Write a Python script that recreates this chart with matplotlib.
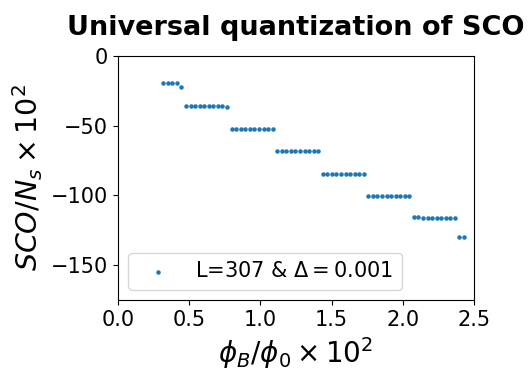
import matplotlib
matplotlib.use("Agg")
import matplotlib.pyplot as plt

# phi_B/phi_0 x 10^2 for each plateau of the staircase
x_step1 = [0.318, 0.350, 0.382, 0.414, 0.446]
x_step2 = [0.478, 0.510, 0.542, 0.574, 0.606, 0.638, 0.670, 0.702, 0.734, 0.766]
x_step3 = [0.798, 0.830, 0.862, 0.894, 0.926, 0.958, 0.990, 1.022, 1.054, 1.086]
x_step4 = [1.118, 1.150, 1.182, 1.214, 1.246, 1.278, 1.310, 1.342, 1.374, 1.406]
x_step5 = [1.438, 1.470, 1.502, 1.534, 1.566, 1.598, 1.630, 1.662, 1.694, 1.726]
x_step6 = [1.758, 1.790, 1.822, 1.854, 1.886, 1.918, 1.950, 1.982, 2.014, 2.046]
x_step7 = [2.078, 2.110, 2.142, 2.174, 2.206, 2.238, 2.270, 2.302, 2.334, 2.366]
x_step8 = [2.398, 2.430]

# SCO/N_s x 10^2
y_step1 = [-19.7, -19.7, -19.7, -19.7, -22.0]
y_step2 = [-35.7, -35.7, -35.7, -35.7, -35.7, -35.7, -35.7, -35.7, -35.7, -36.5]
y_step3 = [-52.1, -52.1, -52.1, -52.1, -52.1, -52.1, -52.1, -52.1, -52.1, -52.1]
y_step4 = [-68.2, -68.2, -68.2, -68.2, -68.2, -68.2, -68.2, -68.2, -68.2, -68.2]
y_step5 = [-84.3, -84.3, -84.3, -84.3, -84.3, -84.3, -84.3, -84.3, -84.3, -84.3]
y_step6 = [-100.5, -100.5, -100.5, -100.5, -100.5, -100.5, -100.5, -100.5, -100.5, -100.5]
y_step7 = [-115.8, -115.8, -116.5, -116.5, -116.5, -116.5, -116.5, -116.5, -116.5, -116.5]
y_step8 = [-129.8, -129.8]

x = x_step1 + x_step2 + x_step3 + x_step4 + x_step5 + x_step6 + x_step7 + x_step8
y = y_step1 + y_step2 + y_step3 + y_step4 + y_step5 + y_step6 + y_step7 + y_step8

fig = plt.figure(figsize=(5.3, 3.72), dpi=100)
ax = fig.add_axes([0.2226, 0.1935, 0.6717, 0.656])

ax.scatter(x, y, s=5, color="#1f77b4", label=r"L=307 & $\Delta = 0.001$")

ax.set_xlim(0, 2.5)
ax.set_ylim(-175, 0)
ax.set_xticks([0.0, 0.5, 1.0, 1.5, 2.0, 2.5])
ax.set_yticks([0, -50, -100, -150])
ax.tick_params(labelsize=15)

ax.set_xlabel(r"$\phi_B/\phi_0 \times 10^2$", fontsize=20)
ax.set_ylabel(r"$SCO/N_s \times 10^2$", fontsize=20.5)
ax.set_title("Universal quantization of SCO", fontsize=19.5,
             fontweight="bold", pad=15)

ax.legend(loc="lower left", fontsize=15)

fig.savefig("out.png", dpi=100)
